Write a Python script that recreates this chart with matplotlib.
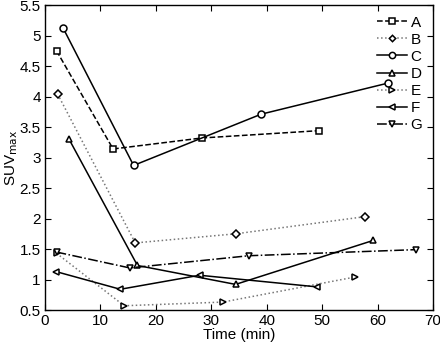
import matplotlib
matplotlib.use("Agg")
import matplotlib.pyplot as plt
from matplotlib.ticker import FuncFormatter

labels = ["A", "B", "C", "D", "E", "F", "G"]
xA = [2.1, 12.3, 28.3, 49.4]; yA = [4.75, 3.14, 3.32, 3.44]
xB = [2.3, 16.3, 34.5, 57.7]; yB = [4.04, 1.60, 1.75, 2.03]
xC = [3.3, 16.0, 39.0, 61.9]; yC = [5.12, 2.87, 3.71, 4.22]
xD = [4.3, 16.7, 34.4, 59.2]; yD = [3.31, 1.23, 0.92, 1.64]
xE = [2.1, 14.3, 32.1, 55.9]; yE = [1.43, 0.57, 0.63, 1.04]
xF = [2.0, 13.6, 27.9, 49.0]; yF = [1.13, 0.84, 1.07, 0.88]
xG = [2.1, 15.3, 36.8, 67.0]; yG = [1.45, 1.19, 1.39, 1.49]

xs = [xA, xB, xC, xD, xE, xF, xG]
ys = [yA, yB, yC, yD, yE, yF, yG]
markers = ["s", "D", "o", "^", ">", "<", "v"]
styles = ["--", ":", "-", "-", ":", "-", "-."]
colors = ["black", "#777777", "black", "black", "#777777", "black", "black"]
msizes = [4.2, 3.6, 5.0, 5.0, 5.0, 5.0, 5.0]

plt.rcParams["font.family"] = ["Liberation Sans", "DejaVu Sans"]
fig = plt.figure(figsize=(4.4, 3.45), dpi=100)
ax = fig.add_axes([0.102, 0.1014, 0.882, 0.8841])

for x, y, m, ls, c, ms, lab in zip(xs, ys, markers, styles, colors, msizes, labels):
    ax.plot(x, y, linestyle=ls, color=c, marker=m, markersize=ms,
            markerfacecolor="white", markeredgecolor="black", markeredgewidth=1.1,
            linewidth=1.1, label=lab)

ax.set_xlim(0, 70)
ax.set_ylim(0.5, 5.5)
ax.set_xticks(range(0, 71, 10))
ax.set_yticks([0.5 * i for i in range(1, 12)])
ax.yaxis.set_major_formatter(FuncFormatter(lambda v, p: ("%g" % v)))
ax.tick_params(direction="in", top=True, right=True, labelsize=11, length=4, pad=3)
for s in ax.spines.values():
    s.set_linewidth(1.0)
ax.set_xlabel("Time (min)", fontsize=11, labelpad=0)
ax.set_ylabel("SUV$_{\\mathrm{max}}$", fontsize=11, labelpad=0)

ax.legend(loc="upper right", frameon=False, fontsize=11, handlelength=2.0,
          handletextpad=0.2, labelspacing=0.2, borderaxespad=0.3, markerscale=0.9)

fig.savefig("out.png", dpi=100)
